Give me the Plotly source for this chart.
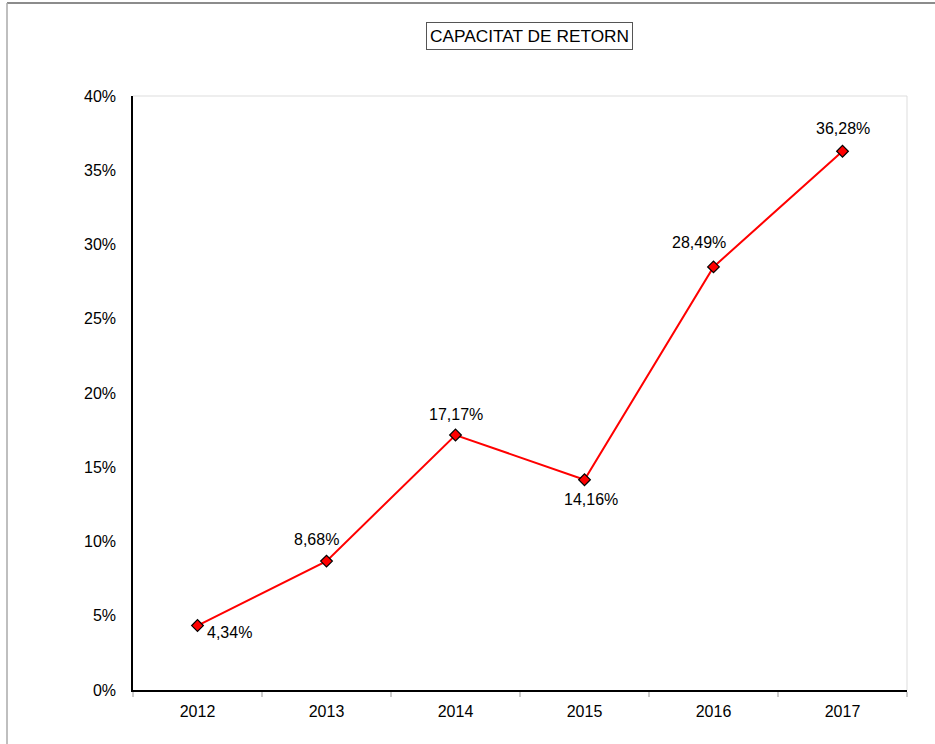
import plotly.graph_objects as go

# data
years = ["2012", "2013", "2014", "2015", "2016", "2017"]
retorn = [0.0434, 0.0868, 0.1717, 0.1416, 0.2849, 0.3628]
labels = ["4,34%", "8,68%", "17,17%", "14,16%", "28,49%", "36,28%"]

# label offsets (px) so text sits where it does in the original
label_dx = [32, -10, 0, 6, -15, 0]
label_dy = [-7, 22, 21, -20, 24, 23]

fig = go.Figure()
fig.add_trace(go.Scatter(
    x=years, y=retorn, mode="lines+markers",
    line=dict(color="#ff0000", width=2),
    marker=dict(symbol="diamond", size=9, color="#ff0000",
                line=dict(color="black", width=1.2)),
    hoverinfo="x+y", showlegend=False))

# category index used for annotations (numeric-looking strings get cast otherwise)
for i, (y, t, dx, dy) in enumerate(zip(retorn, labels, label_dx, label_dy)):
    fig.add_annotation(x=i, y=y, text=t, showarrow=False,
                       xshift=dx, yshift=dy,
                       font=dict(size=16, color="black"))

# title in a box
fig.add_annotation(x=(529 - 133) / 774, y=(690 - 36) / 594, xref="paper", yref="paper",
                   xanchor="center", yanchor="middle",
                   text="CAPACITAT DE RETORN", showarrow=False,
                   font=dict(size=17.3, color="black"),
                   bordercolor="#555555", borderwidth=1, borderpad=3,
                   bgcolor="white")

# light gray top/right frame of plot area
fig.add_shape(type="line", xref="paper", yref="paper", x0=0, x1=1, y0=1, y1=1,
              line=dict(color="#dddddd", width=1))
fig.add_shape(type="line", xref="paper", yref="paper", x0=1, x1=1, y0=0, y1=1,
              line=dict(color="#dddddd", width=1))
# outer chart border (top and left)
fig.add_shape(type="line", xref="paper", yref="paper",
              x0=(7 - 133) / 774, x1=(940 - 133) / 774,
              y0=(690 - 3) / 594, y1=(690 - 3) / 594,
              line=dict(color="#666666", width=1.5))
fig.add_shape(type="line", xref="paper", yref="paper",
              x0=(7 - 133) / 774, x1=(7 - 133) / 774,
              y0=(690 - 3) / 594, y1=(690 - 750) / 594,
              line=dict(color="#aaaaaa", width=1.5))

fig.update_xaxes(type="category", range=[-0.5, 5.5], showline=True, linecolor="black",
                 linewidth=1.5, ticks="outside", tickson="boundaries", ticklen=5,
                 tickcolor="#cccccc", tickwidth=2, showgrid=False, zeroline=False,
                 tickfont=dict(size=16, color="black"), ticklabelstandoff=6,
                 automargin=False)
fig.update_yaxes(range=[0, 0.4], dtick=0.05, tickformat=".0%",
                 showline=True, linecolor="black", linewidth=1.5,
                 ticks="", showgrid=False, zeroline=False,
                 tickfont=dict(size=16, color="black"), ticklabelstandoff=12,
                 automargin=False)

fig.update_layout(
    width=935, height=744,
    margin=dict(l=133, r=28, t=96, b=54),
    paper_bgcolor="white", plot_bgcolor="white",
    font=dict(family="Liberation Sans, Arial, sans-serif", color="black"),
)

# drop the default page margin so the figure sits at the window's top-left corner
fig.write_html("out.html", config={"displayModeBar": False},
               post_script="document.body.style.margin='0';")
